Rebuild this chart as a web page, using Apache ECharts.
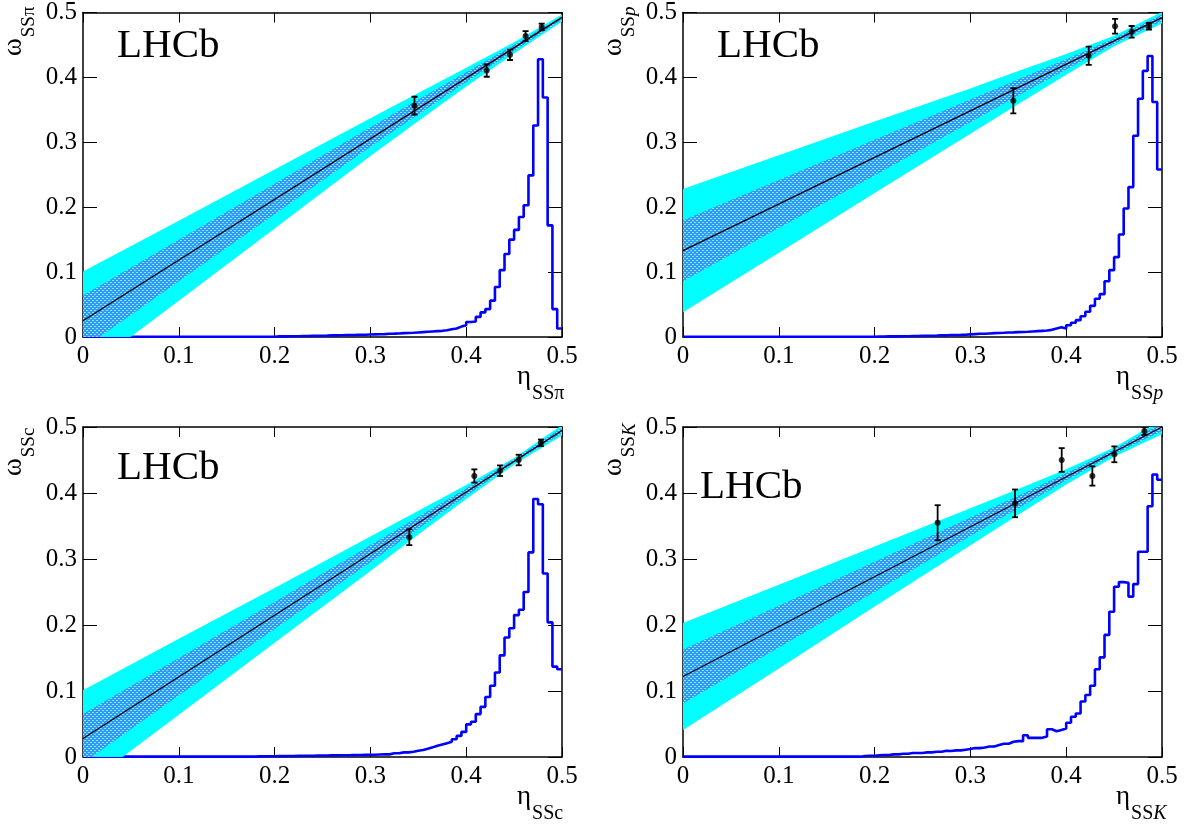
<!DOCTYPE html>
<html><head><meta charset="utf-8">
<script src="https://cdn.jsdelivr.net/npm/echarts@6/dist/echarts.min.js"></script>
<style>html,body{margin:0;padding:0;background:#fff}#c{width:1192px;height:829px}</style>
</head><body><div id="c"></div>
<script>
// ---------- data ----------
const xTicks = [0, 0.1, 0.2, 0.3, 0.4, 0.5];
const bandX = [0, 0.1, 0.2, 0.3, 0.35, 0.4, 0.45, 0.5];
const fitX = [0, 0.5];

// SS pion
const pionFit = [0.025, 0.4925];
const pionOuterUp = [0.101, 0.179, 0.258, 0.337, 0.376, 0.415, 0.454, 0.497];
const pionOuterLo = [-0.055, 0.056, 0.167, 0.279, 0.333, 0.386, 0.437, 0.486];
const pionInnerUp = [0.064, 0.150, 0.236, 0.323, 0.366, 0.408, 0.450, 0.494];
const pionInnerLo = [-0.018, 0.086, 0.189, 0.293, 0.343, 0.393, 0.441, 0.489];
const pionPoints = [[0.346,0.3565,0.0137],[0.4214,0.4106,0.0096],[0.4457,0.4348,0.008],[0.462,0.4636,0.0076],[0.4788,0.4778,0.005]];
const pionHist = [
0.0005,0.0005,0.0005,0.0005,0.0005,0.0005,0.0005,0.0005,0.0005,0.0005,
0.0005,0.0005,0.0005,0.0005,0.0005,0.0005,0.0005,0.0005,0.0005,0.0005,
0.0005,0.0005,0.0005,0.0005,0.0005,0.0005,0.0005,0.0005,0.0005,0.0005,
0.0005,0.0005,0.0005,0.0005,0.0005,0.0005,0.0005,0.0005,0.0005,0.0005,
0.001,0.001,0.001,0.0012,0.0012,0.0015,0.0015,0.0018,0.002,0.002,
0.0022,0.0025,0.0025,0.0028,0.003,0.003,0.0032,0.0035,0.0035,0.0038,
0.004,0.0042,0.0045,0.005,0.0052,0.0055,0.006,0.0062,0.0065,0.007,
0.0075,0.008,0.0085,0.009,0.0095,0.0105,0.012,0.013,0.016,0.018,
0.023,0.024,0.031,0.038,0.043,0.056,0.077,0.103,0.128,0.150,
0.165,0.185,0.203,0.249,0.326,0.428,0.369,0.172,0.043,0.013];

// SS proton
const protonFit = [0.133, 0.492];
const protonOuterUp = [0.228, 0.280, 0.332, 0.383, 0.410, 0.436, 0.464, 0.501];
const protonOuterLo = [0.038, 0.130, 0.222, 0.313, 0.359, 0.404, 0.448, 0.483];
const protonInnerUp = [0.180, 0.242, 0.304, 0.366, 0.397, 0.428, 0.460, 0.497];
const protonInnerLo = [0.086, 0.168, 0.249, 0.331, 0.372, 0.412, 0.452, 0.487];
const protonPoints = [[0.3448,0.364,0.0195],[0.4235,0.4333,0.014],[0.451,0.4788,0.0114],[0.4683,0.4702,0.009],[0.4864,0.4788,0.005]];
const protonHist = [
0.0005,0.0005,0.0005,0.0005,0.0005,0.0005,0.0005,0.0005,0.0005,0.0005,
0.0005,0.0005,0.0005,0.0005,0.0005,0.0005,0.0005,0.0005,0.0005,0.0005,
0.0005,0.0005,0.0005,0.0005,0.0005,0.0005,0.0005,0.0005,0.0005,0.0005,
0.0005,0.0005,0.0005,0.0005,0.0005,0.0005,0.0005,0.0005,0.0005,0.0005,
0.0008,0.0008,0.001,0.001,0.001,0.0012,0.0012,0.0015,0.0015,0.0018,
0.002,0.002,0.0022,0.0025,0.0025,0.003,0.003,0.0032,0.0035,0.004,
0.0045,0.005,0.005,0.0055,0.006,0.0062,0.0065,0.007,0.0072,0.0075,
0.0078,0.008,0.0085,0.009,0.0095,0.010,0.011,0.013,0.015,0.013,
0.018,0.022,0.026,0.032,0.039,0.048,0.059,0.066,0.086,0.103,
0.123,0.158,0.198,0.231,0.31,0.367,0.41,0.433,0.362,0.258];

// SS charm
const charmFit = [0.028, 0.4948];
const charmOuterUp = [0.101, 0.179, 0.256, 0.334, 0.373, 0.412, 0.453, 0.503];
const charmOuterLo = [-0.045, 0.064, 0.173, 0.282, 0.337, 0.391, 0.443, 0.487];
const charmInnerUp = [0.065, 0.150, 0.235, 0.321, 0.364, 0.407, 0.451, 0.499];
const charmInnerLo = [-0.009, 0.093, 0.194, 0.295, 0.346, 0.396, 0.446, 0.491];
const charmPoints = [[0.3406,0.333,0.012],[0.4085,0.4258,0.01],[0.4353,0.4338,0.008],[0.4548,0.45,0.008],[0.478,0.476,0.005]];
const charmHist = [
0.0005,0.0005,0.0005,0.0005,0.0005,0.0005,0.0005,0.0005,0.0005,0.0005,
0.0005,0.0005,0.0005,0.0005,0.0005,0.0005,0.0005,0.0005,0.0005,0.0005,
0.0005,0.0005,0.0005,0.0005,0.0005,0.0005,0.0005,0.0005,0.0005,0.0005,
0.0005,0.0005,0.0005,0.0005,0.0005,0.0005,0.001,0.001,0.0012,0.0012,
0.0013,0.0014,0.0015,0.0016,0.0017,0.0018,0.0019,0.002,0.0021,0.0022,
0.0023,0.0024,0.0025,0.0026,0.0027,0.0028,0.003,0.0031,0.0032,0.0033,
0.0035,0.0038,0.004,0.004,0.0056,0.0056,0.007,0.007,0.008,0.0096,
0.0106,0.0126,0.0146,0.017,0.019,0.021,0.023,0.027,0.032,0.038,
0.0495,0.0535,0.065,0.076,0.091,0.108,0.128,0.154,0.181,0.195,
0.215,0.223,0.25,0.31,0.391,0.383,0.278,0.204,0.137,0.133];

// SS kaon
const kaonFit = [0.122, 0.5];
const kaonOuterUp = [0.203, 0.261, 0.319, 0.377, 0.406, 0.436, 0.469, 0.511];
const kaonOuterLo = [0.041, 0.134, 0.228, 0.321, 0.367, 0.413, 0.455, 0.489];
const kaonInnerUp = [0.163, 0.229, 0.296, 0.363, 0.396, 0.430, 0.466, 0.506];
const kaonInnerLo = [0.081, 0.166, 0.250, 0.335, 0.377, 0.419, 0.459, 0.494];
const kaonPoints = [[0.2658,0.355,0.0265],[0.3466,0.3843,0.021],[0.3953,0.45,0.018],[0.4273,0.4258,0.0146],[0.4503,0.4586,0.012],[0.4816,0.494,0.006]];
const kaonHist = [
0.0005,0.0005,0.0005,0.0005,0.0005,0.0005,0.0005,0.0005,0.0005,0.0005,
0.0005,0.0005,0.0005,0.0005,0.0005,0.0005,0.0005,0.0005,0.0005,0.0005,
0.0005,0.0005,0.0005,0.0005,0.0005,0.0005,0.0005,0.0005,0.0005,0.0005,
0.0005,0.0005,0.0005,0.0005,0.0005,0.0005,0.0005,0.0015,0.002,0.002,
0.0025,0.003,0.003,0.004,0.004,0.005,0.005,0.006,0.006,0.006,
0.007,0.007,0.008,0.008,0.0095,0.009,0.01,0.01,0.011,0.012,
0.0135,0.0135,0.0145,0.016,0.016,0.018,0.02,0.02,0.023,0.024,
0.024,0.033,0.029,0.029,0.029,0.031,0.042,0.039,0.041,0.043,
0.052,0.061,0.066,0.084,0.094,0.108,0.133,0.151,0.185,0.22,
0.258,0.265,0.264,0.243,0.262,0.311,0.311,0.38,0.428,0.42];

// ---------- layout ----------
const FONT = 'Liberation Serif';
const panels = [
  {grid:{left:83, top:7, width:479, height:330}, fit:pionFit, oU:pionOuterUp, oL:pionOuterLo, iU:pionInnerUp, iL:pionInnerLo, pts:pionPoints, hist:pionHist,
   ySub:'{s|SSπ}', xSub:'{s|SSπ}', ytx:0, yty:56, xtx:517, xty:363, lx:117, ly:46},
  {grid:{left:683, top:7, width:479, height:330}, fit:protonFit, oU:protonOuterUp, oL:protonOuterLo, iU:protonInnerUp, iL:protonInnerLo, pts:protonPoints, hist:protonHist,
   ySub:'{s|SS}{si|p}', xSub:'{s|SS}{si|p}', ytx:600, yty:56, xtx:1116, xty:363, lx:717, ly:46},
  {grid:{left:83, top:427, width:479, height:330}, fit:charmFit, oU:charmOuterUp, oL:charmOuterLo, iU:charmInnerUp, iL:charmInnerLo, pts:charmPoints, hist:charmHist,
   ySub:'{s|SSc}', xSub:'{s|SSc}', ytx:0, yty:476, xtx:517, xty:783, lx:117, ly:468},
  {grid:{left:683, top:427, width:479, height:330}, fit:kaonFit, oU:kaonOuterUp, oL:kaonOuterLo, iU:kaonInnerUp, iL:kaonInnerLo, pts:kaonPoints, hist:kaonHist,
   ySub:'{s|SS}{si|K}', xSub:'{s|SS}{si|K}', ytx:600, yty:476, xtx:1116, xty:783, lx:700, ly:487}
];

function makeHatch(){
  const c = document.createElement('canvas'); c.width = 4; c.height = 4;
  const g = c.getContext('2d');
  g.fillStyle = '#2f9cf4'; g.fillRect(0,0,4,4);
  g.fillStyle = '#8ee0ff';
  g.fillRect(0,0,2,1); g.fillRect(2,2,2,1);
  return c;
}
const hatch = {image: makeHatch(), repeat: 'repeat'};

function bandSeries(xi, yi, up, lo, fill, z) {
  return {type:'custom', xAxisIndex:xi, yAxisIndex:yi, clip:true, z:z, animation:false, silent:true,
    data: bandX.map((x,k)=>[x, lo[k], up[k]]),
    encode:{x:0, y:[1,2]},
    renderItem:(params, api) => {
      if (params.dataIndex !== 0) return null;
      const pts = [];
      bandX.forEach((x,k)=>pts.push(api.coord([x, up[k]])));
      for (let k = bandX.length-1; k >= 0; k--) pts.push(api.coord([bandX[k], lo[k]]));
      return {type:'polygon', shape:{points:pts}, style:{fill:fill, stroke:null}};
    }};
}

const grids = [], xAxes = [], yAxes = [], series = [], graphics = [];
const axisBase = {min:0, max:0.5, interval:0.1};
panels.forEach((p, i) => {
  grids.push(p.grid);
  const lab = {show:true, fontFamily:FONT, fontSize:25, color:'#000'};
  xAxes.push(Object.assign({type:'value', gridIndex:i, position:'bottom',
    axisLine:{show:true, onZero:false, lineStyle:{color:'#000', width:1.5}},
    axisTick:{show:true, inside:true, length:10, lineStyle:{color:'#000', width:1}},
    axisLabel:Object.assign({margin:7}, lab), splitLine:{show:false}}, axisBase));
  xAxes.push(Object.assign({type:'value', gridIndex:i, position:'top',
    axisLine:{show:true, onZero:false, lineStyle:{color:'#000', width:1.5}},
    axisTick:{show:true, inside:true, length:10, lineStyle:{color:'#000', width:1}},
    axisLabel:{show:false}, splitLine:{show:false}}, axisBase));
  yAxes.push(Object.assign({type:'value', gridIndex:i, position:'left',
    axisLine:{show:true, onZero:false, lineStyle:{color:'#000', width:1.5}},
    axisTick:{show:true, inside:true, length:14, lineStyle:{color:'#000', width:1}},
    axisLabel:Object.assign({margin:6}, lab), splitLine:{show:false}}, axisBase));
  yAxes.push(Object.assign({type:'value', gridIndex:i, position:'right',
    axisLine:{show:true, onZero:false, lineStyle:{color:'#000', width:1.5}},
    axisTick:{show:true, inside:true, length:14, lineStyle:{color:'#000', width:1}},
    axisLabel:{show:false}, splitLine:{show:false}}, axisBase));
  const xi = 2*i, yi = 2*i;
  const binW = 0.5 / p.hist.length;
  const hd = p.hist.map((v, k) => [k*binW, v]);
  hd.push([0.5, p.hist[p.hist.length-1]]);
  series.push({type:'line', xAxisIndex:xi, yAxisIndex:yi, data:hd, step:'end', symbol:'none', z:1,
    lineStyle:{color:'#0000ff', width:2.6}, animation:false, silent:true});
  series.push(bandSeries(xi, yi, p.oU, p.oL, '#00ffff', 2));
  series.push(bandSeries(xi, yi, p.iU, p.iL, hatch, 3));
  series.push({type:'line', xAxisIndex:xi, yAxisIndex:yi, data: fitX.map((x,k)=>[x, p.fit[k]]), symbol:'none', z:4,
    lineStyle:{color:'#000', width:1.3}, animation:false, silent:true});
  series.push({type:'custom', xAxisIndex:xi, yAxisIndex:yi, data:p.pts, z:5, clip:true, animation:false, silent:true,
    encode:{x:0, y:1},
    renderItem:(params, api) => {
      const x = api.value(0), y = api.value(1), e = api.value(2);
      const a = api.coord([x, y+e]), b = api.coord([x, y-e]);
      const w = 3, st = {stroke:'#000', lineWidth:1.8};
      return {type:'group', children:[
        {type:'line', shape:{x1:a[0], y1:a[1], x2:b[0], y2:b[1]}, style:st},
        {type:'line', shape:{x1:a[0]-w, y1:a[1], x2:a[0]+w, y2:a[1]}, style:st},
        {type:'line', shape:{x1:b[0]-w, y1:b[1], x2:b[0]+w, y2:b[1]}, style:st}
      ]};
    }});
  series.push({type:'scatter', xAxisIndex:xi, yAxisIndex:yi, data:p.pts.map(d=>[d[0], d[1]]), symbol:'circle', symbolSize:6,
    itemStyle:{color:'#000'}, z:6, animation:false, silent:true});

  const rich = {
    w:{fontFamily:FONT, fontSize:27, lineHeight:30, verticalAlign:'top', fill:'#000'},
    s:{fontFamily:FONT, fontSize:19, lineHeight:19, padding:[20,0,0,1], verticalAlign:'top', fill:'#000'},
    si:{fontFamily:FONT, fontSize:19, lineHeight:19, fontStyle:'italic', padding:[20,0,0,0], verticalAlign:'top', fill:'#000'}
  };
  const richX = {
    w:{fontFamily:FONT, fontSize:27, lineHeight:30, verticalAlign:'top', fill:'#000'},
    s:{fontFamily:FONT, fontSize:20, lineHeight:20, padding:[21,0,0,1], verticalAlign:'top', fill:'#000'},
    si:{fontFamily:FONT, fontSize:20, lineHeight:20, fontStyle:'italic', padding:[21,0,0,0], verticalAlign:'top', fill:'#000'}
  };
  graphics.push({type:'text', x:p.ytx, y:p.yty, rotation:Math.PI/2, z:100, silent:true,
    style:{text:'{w|ω}'+p.ySub, align:'left', verticalAlign:'top', rich:rich}});
  graphics.push({type:'text', x:p.xtx, y:p.xty, z:100, silent:true,
    style:{text:'{w|η}'+p.xSub, align:'left', verticalAlign:'top', rich:richX}});
  graphics.push({type:'text', x:p.lx, y:p.ly, z:100, silent:true,
    style:{text:'LHCb', fontFamily:FONT, fontSize:41, fill:'#000', align:'left', verticalAlign:'middle'}});
});

const chart = echarts.init(document.getElementById('c'), null, {renderer:'canvas'});
chart.setOption({animation:false, backgroundColor:'#fff', grid:grids, xAxis:xAxes, yAxis:yAxes, series:series, graphic:graphics});
</script></body></html>
